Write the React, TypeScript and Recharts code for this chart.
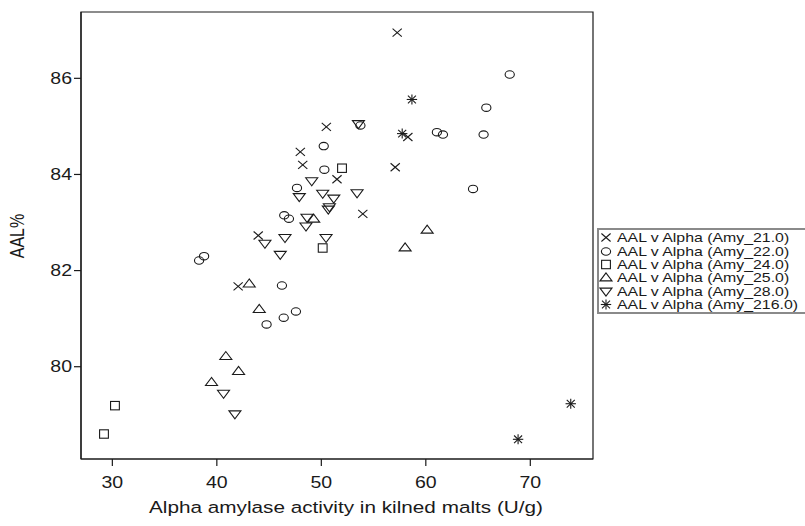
import React from 'react';
import { ScatterChart, Scatter, XAxis, YAxis, ReferenceArea, Legend, Label } from 'recharts';

// ---- data (alpha amylase U/g, AAL %) ----
const amy21 = [
  { alpha: 57.26, aal: 86.95 }, { alpha: 50.48, aal: 84.99 }, { alpha: 58.28, aal: 84.78 },
  { alpha: 47.99, aal: 84.47 }, { alpha: 48.22, aal: 84.2 }, { alpha: 57.07, aal: 84.15 },
  { alpha: 51.5, aal: 83.9 }, { alpha: 53.97, aal: 83.18 }, { alpha: 43.96, aal: 82.73 },
  { alpha: 42.04, aal: 81.67 },
];
const amy22 = [
  { alpha: 68.03, aal: 86.08 }, { alpha: 65.79, aal: 85.39 }, { alpha: 65.53, aal: 84.83 },
  { alpha: 64.52, aal: 83.7 }, { alpha: 61.06, aal: 84.88 }, { alpha: 61.64, aal: 84.83 },
  { alpha: 53.74, aal: 85.02 }, { alpha: 50.23, aal: 84.59 }, { alpha: 50.29, aal: 84.1 },
  { alpha: 47.67, aal: 83.72 }, { alpha: 46.45, aal: 83.15 }, { alpha: 46.9, aal: 83.08 },
  { alpha: 38.3, aal: 82.21 }, { alpha: 38.78, aal: 82.3 }, { alpha: 46.23, aal: 81.69 },
  { alpha: 44.76, aal: 80.88 }, { alpha: 46.4, aal: 81.02 }, { alpha: 47.57, aal: 81.15 },
];
const amy24 = [
  { alpha: 51.98, aal: 84.13 }, { alpha: 50.13, aal: 82.47 },
  { alpha: 30.25, aal: 79.19 }, { alpha: 29.2, aal: 78.6 },
];
const amy25 = [
  { alpha: 60.13, aal: 82.85 }, { alpha: 58.02, aal: 82.48 }, { alpha: 49.27, aal: 83.08 },
  { alpha: 43.1, aal: 81.73 }, { alpha: 44.06, aal: 81.2 }, { alpha: 40.86, aal: 80.22 },
  { alpha: 42.08, aal: 79.91 }, { alpha: 39.49, aal: 79.68 },
];
const amy28 = [
  { alpha: 53.55, aal: 85.05 }, { alpha: 49.08, aal: 83.86 }, { alpha: 47.89, aal: 83.53 },
  { alpha: 50.13, aal: 83.6 }, { alpha: 51.19, aal: 83.5 }, { alpha: 53.42, aal: 83.61 },
  { alpha: 50.77, aal: 83.32 }, { alpha: 50.67, aal: 83.27 }, { alpha: 48.63, aal: 83.1 },
  { alpha: 48.53, aal: 82.92 }, { alpha: 46.52, aal: 82.68 }, { alpha: 50.45, aal: 82.68 },
  { alpha: 46.07, aal: 82.33 }, { alpha: 44.6, aal: 82.56 }, { alpha: 40.64, aal: 79.44 },
  { alpha: 41.73, aal: 79.01 },
];
const amy216 = [
  { alpha: 58.67, aal: 85.56 }, { alpha: 57.74, aal: 84.85 },
  { alpha: 73.87, aal: 79.23 }, { alpha: 68.83, aal: 78.49 },
];

const seriesNames = [
  'AAL v Alpha (Amy_21.0)',
  'AAL v Alpha (Amy_22.0)',
  'AAL v Alpha (Amy_24.0)',
  'AAL v Alpha (Amy_25.0)',
  'AAL v Alpha (Amy_28.0)',
  'AAL v Alpha (Amy_216.0)',
];
const xTicks = [30, 40, 50, 60, 70];
const yTicks = [80, 82, 84, 86];
const xTitle = 'Alpha amylase activity in kilned malts (U/g)';
const yTitle = 'AAL%';

// ---- styling ----
const FONT = '"Liberation Sans", Arial, Helvetica, sans-serif';
const INK = '#1a1a1a';
const SX = 1.22;
const X_DOMAIN: [number, number] = [27, 76];
const Y_DOMAIN: [number, number] = [78.08, 87.38];

type Kind = 'cross' | 'circle' | 'square' | 'up' | 'down' | 'star';
const kinds: Kind[] = ['cross', 'circle', 'square', 'up', 'down', 'star'];
const seriesData = [amy21, amy22, amy24, amy25, amy28, amy216];

function Marker({ kind, cx, cy }: { kind: Kind; cx: number; cy: number }) {
  const s = { stroke: INK, strokeWidth: 1.1, fill: 'none' };
  switch (kind) {
    case 'cross':
      return (
        <g {...s}>
          <line x1={cx - 4.6} y1={cy - 4} x2={cx + 4.6} y2={cy + 4} />
          <line x1={cx - 4.6} y1={cy + 4} x2={cx + 4.6} y2={cy - 4} />
        </g>
      );
    case 'circle':
      return <ellipse cx={cx} cy={cy} rx={4.6} ry={3.7} {...s} />;
    case 'square':
      return <rect x={cx - 4.4} y={cy - 4.2} width={8.8} height={8.4} {...s} />;
    case 'up':
      return <polygon points={`${cx},${cy - 4.6} ${cx - 6},${cy + 3.4} ${cx + 6},${cy + 3.4}`} {...s} />;
    case 'down':
      return <polygon points={`${cx},${cy + 4.6} ${cx - 6},${cy - 3.4} ${cx + 6},${cy - 3.4}`} {...s} />;
    case 'star':
    default:
      return (
        <g {...s}>
          <line x1={cx - 5.2} y1={cy} x2={cx + 5.2} y2={cy} />
          <line x1={cx} y1={cy - 5} x2={cx} y2={cy + 5} />
          <line x1={cx - 4} y1={cy - 3.8} x2={cx + 4} y2={cy + 3.8} />
          <line x1={cx - 4} y1={cy + 3.8} x2={cx + 4} y2={cy - 3.8} />
        </g>
      );
  }
}

const XTick = (props: any) => {
  const { x, y, payload } = props;
  return (
    <g transform={`translate(${x},${y})`}>
      <text x={0} y={0} dy={20} textAnchor="middle" fontSize={16} fill={INK} fontFamily={FONT} transform={`scale(${SX},1)`}>
        {payload.value}
      </text>
    </g>
  );
};

const YTick = (props: any) => {
  const { x, y, payload } = props;
  return (
    <g transform={`translate(${x},${y})`}>
      <text x={0} y={0} dy={5.7} textAnchor="end" fontSize={16} fill={INK} fontFamily={FONT} transform={`scale(${SX},1)`}>
        {payload.value}
      </text>
    </g>
  );
};

const LegendBox = () => (
  <div
    style={{
      position: 'relative',
      width: 210,
      height: 82,
      borderLeft: '2px solid #8a8a8a',
      borderTop: '2px solid #8a8a8a',
      borderBottom: '2px solid #8a8a8a',
      background: '#fff',
      fontFamily: FONT,
      color: INK,
    }}
  >
    {seriesNames.map((name, i) => (
      <div
        key={name}
        style={{ position: 'absolute', left: 0, top: 1 + i * 13.4, height: 13.4, display: 'flex', alignItems: 'center' }}
      >
        <svg width={16} height={13} style={{ display: 'block' }}>
          <Marker kind={kinds[i]} cx={7} cy={6.5} />
        </svg>
        <span
          style={{
            fontSize: 13,
            lineHeight: '13px',
            whiteSpace: 'nowrap',
            display: 'inline-block',
            transform: `scaleX(${SX})`,
            transformOrigin: 'left center',
            marginLeft: 2,
          }}
        >
          {name}
        </span>
      </div>
    ))}
  </div>
);

export default function App() {
  return (
    <div style={{ position: 'absolute', left: 0, top: 0, width: 805, height: 526, overflow: 'hidden', background: '#fff' }}>
      <ScatterChart width={805} height={526} margin={{ top: 12, right: 212, bottom: 0, left: 0 }}>
        <XAxis
          type="number"
          dataKey="alpha"
          domain={X_DOMAIN}
          ticks={xTicks}
          allowDataOverflow
          height={67}
          tickSize={7}
          tick={<XTick />}
          tickLine={{ stroke: INK, strokeWidth: 1.2 }}
          axisLine={{ stroke: INK, strokeWidth: 1.2 }}
        >
          <Label
            content={() => (
              <text
                transform={`translate(346,513) scale(${SX},1)`}
                textAnchor="middle"
                fontSize={17}
                fill={INK}
                fontFamily={FONT}
              >
                {xTitle}
              </text>
            )}
          />
        </XAxis>
        <YAxis
          type="number"
          dataKey="aal"
          domain={Y_DOMAIN}
          ticks={yTicks}
          allowDataOverflow
          width={81}
          tickSize={7}
          tick={<YTick />}
          tickLine={{ stroke: INK, strokeWidth: 1.2 }}
          axisLine={{ stroke: INK, strokeWidth: 1.2 }}
        >
          <Label
            content={() => (
              <text
                transform={`translate(24,236) scale(${SX},1) rotate(-90)`}
                textAnchor="middle"
                fontSize={16}
                fill={INK}
                fontFamily={FONT}
              >
                {yTitle}
              </text>
            )}
          />
        </YAxis>
        <ReferenceArea
          x1={X_DOMAIN[0]}
          x2={X_DOMAIN[1]}
          y1={Y_DOMAIN[0]}
          y2={Y_DOMAIN[1]}
          fill="none"
          fillOpacity={0}
          stroke={INK}
          strokeWidth={1.2}
        />
        {seriesData.map((data, i) => (
          <Scatter
            key={seriesNames[i]}
            name={seriesNames[i]}
            data={data}
            isAnimationActive={false}
            shape={(p: any) => <Marker kind={kinds[i]} cx={p.cx} cy={p.cy} />}
          />
        ))}
        <Legend
          layout="horizontal"
          verticalAlign="middle"
          align="center"
          content={() => <LegendBox />}
          wrapperStyle={{ position: 'absolute', left: 597, top: 228, width: 210, height: 86 }}
        />
      </ScatterChart>
    </div>
  );
}
